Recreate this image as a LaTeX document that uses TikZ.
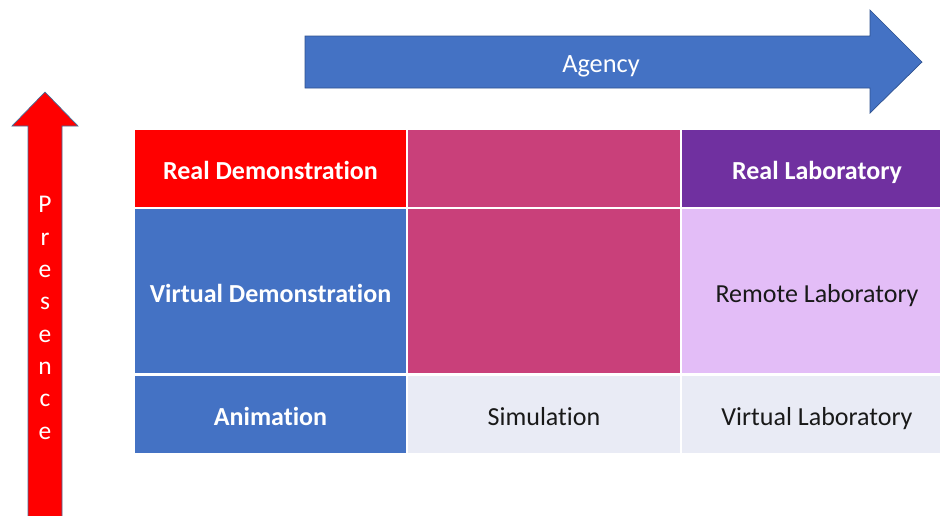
\documentclass[tikz,border=0pt]{standalone}
\usepackage{fontspec}
\setmainfont{Carlito}[Ligatures=NoCommon]
\usepackage{tikz}
\usetikzlibrary{positioning}
\usepackage{color}
\definecolor{realred}{RGB}{255, 0, 0}
\definecolor{office}{RGB}{68, 114, 196}
\definecolor{officeline}{RGB}{47, 82, 143}
\definecolor{redline}{RGB}{65, 113, 156}
\definecolor{raspberry}{RGB}{201, 64, 122}
\definecolor{amethyst}{RGB}{112, 48, 160}
\definecolor{lilac}{RGB}{227, 189, 247}
\definecolor{pale}{RGB}{233, 235, 245}

\tikzset{
    cell/.style  = {draw=white, line width=1.2pt, inner sep=0pt, anchor=center, text height=12.4pt, text depth=0pt},
    bold/.style  = {text=white, font=\fontsize{14.8}{17}\selectfont\bfseries},
    plain/.style = {text=black!90, font=\fontsize{14.8}{17}\selectfont}
}

\begin{document}
\begin{tikzpicture}[x=0.02cm, y=-0.02cm]
        \useasboundingbox (0,0) rectangle (940,515);
            % axes
            \filldraw[color=officeline, fill=office, thin] (305,36) -- (870,36) -- (870,10) -- (922,62)
                 -- (870,113) -- (870,88) -- (305,88) -- cycle;
            \filldraw[color=redline, fill=realred, thin] (28,520) -- (28,126) -- (12,126) -- (45,92)
                 -- (78,126) -- (62,126) -- (62,520);
            \node (agency)   [text=white, font=\fontsize{15}{18}\selectfont, text height=12.4pt, text depth=0pt, inner sep=0pt]
                 at (601,62) {Agency};
            \node (presence) [text=white, font=\fontsize{14.5}{18.4}\selectfont, align=center, inner sep=0pt]
                 at (45,318) {P\\r\\e\\s\\e\\n\\c\\e};
            % first row
            \node (realdemo) [cell, bold,  fill=realred,   minimum width=5.46cm, minimum height=1.58cm] at (270.5,168.5) {Real Demonstration};
            \node (toprow)   [cell,        fill=raspberry, minimum width=5.48cm, minimum height=1.58cm] at (544,168.5)   {};
            \node (reallab)  [cell, bold,  fill=amethyst,  minimum width=5.44cm, minimum height=1.58cm] at (817,168.5)   {Real Laboratory};
            % second row
            \node (virtdemo) [cell, bold,  fill=office,    minimum width=5.46cm, minimum height=3.33cm] at (270.5,291.25) {Virtual Demonstration};
            \node (midrow)   [cell,        fill=raspberry, minimum width=5.48cm, minimum height=3.33cm] at (544,291.25)   {};
            \node (remote)   [cell, plain, fill=lilac,     minimum width=5.44cm, minimum height=3.33cm] at (817,291.25)   {Remote Laboratory};
            % third row
            \node (anim)     [cell, bold,  fill=office,    minimum width=5.46cm, minimum height=1.59cm] at (270.5,414.25) {Animation};
            \node (sim)      [cell, plain, fill=pale,      minimum width=5.48cm, minimum height=1.59cm] at (544,414.25)   {Simulation};
            \node (virtlab)  [cell, plain, fill=pale,      minimum width=5.44cm, minimum height=1.59cm] at (817,414.25)   {Virtual Laboratory};
        \end{tikzpicture}
\end{document}
